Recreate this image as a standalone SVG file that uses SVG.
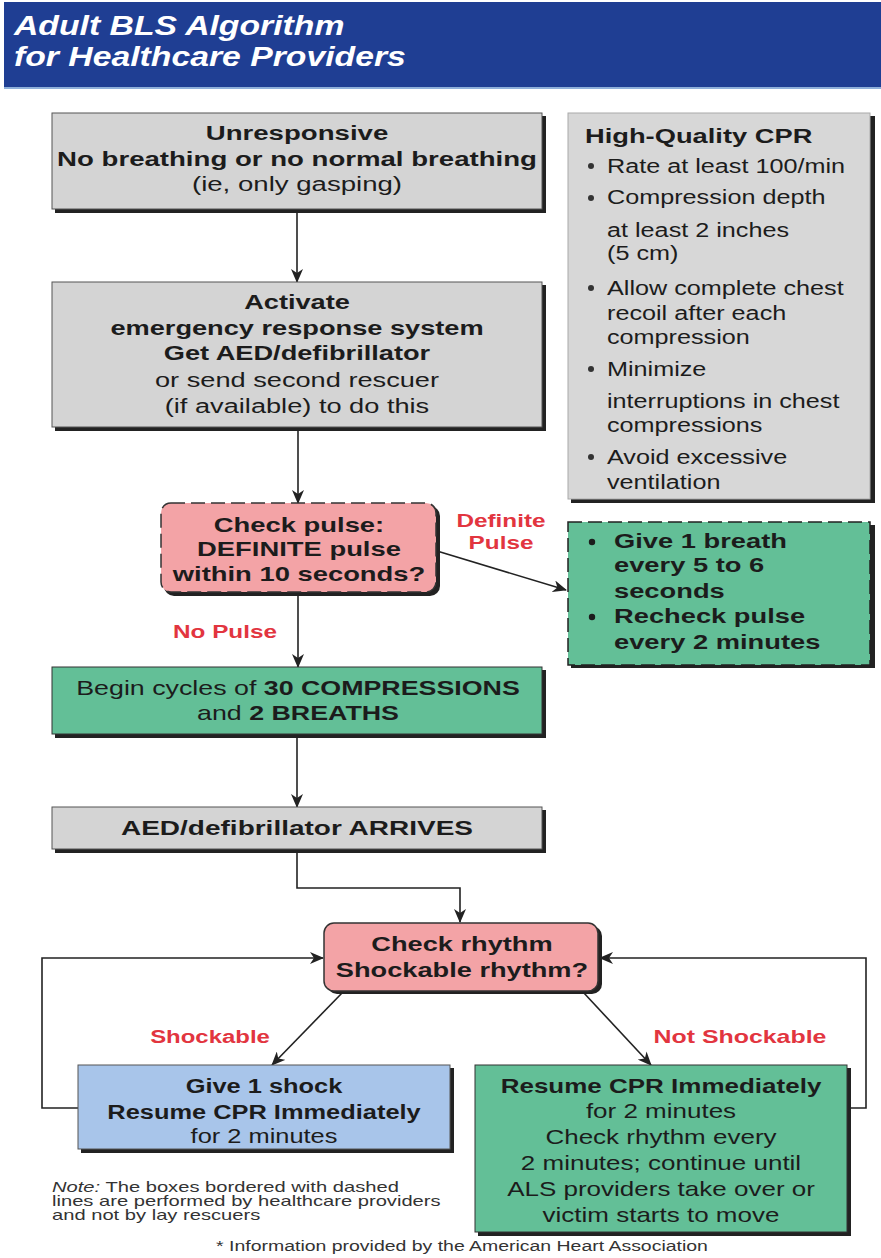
<svg xmlns="http://www.w3.org/2000/svg" width="881" height="1258" viewBox="0 0 881 1258">
<style>
text{font-family:"Liberation Sans",Arial,sans-serif;fill:#1c1c1c;font-size:20px}
.c{text-anchor:middle}
.b{font-weight:bold}
.red{fill:#e2353f;font-weight:bold}
.sh{fill:#222}
.gray{fill:#d4d4d4;stroke:#555;stroke-width:1}
.pink{fill:#f3a3a6;stroke:#333;stroke-width:1.5;stroke-dasharray:14 6}
.pinks{fill:#f3a3a6;stroke:#333;stroke-width:1.5}
.green{fill:#63bf97;stroke:#333;stroke-width:1}
.greend{fill:#63bf97;stroke:#222;stroke-width:1.5;stroke-dasharray:14 6}
.blue{fill:#a8c5ea;stroke:#555;stroke-width:1}
.ln{fill:none;stroke:#222;stroke-width:1.6}
</style>
<defs>
<marker id="ah" markerUnits="userSpaceOnUse" markerWidth="14" markerHeight="12" refX="13" refY="6" orient="auto">
<path d="M0,0 L14,6 L0,12 L4,6 Z" fill="#222"/>
</marker>
</defs>
<rect width="881" height="1258" fill="#ffffff"/>

<g id="title">
<rect x="4" y="2" width="877" height="85" fill="#1f3e93"/>
<rect x="4" y="87" width="877" height="2" fill="#8fb0da"/>
<g transform="translate(14 0) scale(1.25 1)">
<text x="0" y="35" style="fill:#fff;font-weight:bold;font-style:italic;font-size:27px">Adult BLS Algorithm</text>
<text x="0" y="66" style="fill:#fff;font-weight:bold;font-style:italic;font-size:27px">for Healthcare Providers</text>
</g>
</g>

<g id="connectors">
<line class="ln" x1="297" y1="210" x2="297" y2="282" marker-end="url(#ah)"/>
<line class="ln" x1="298" y1="428" x2="298" y2="503" marker-end="url(#ah)"/>
<line class="ln" x1="437" y1="551" x2="566" y2="590" marker-end="url(#ah)"/>
<line class="ln" x1="298" y1="594" x2="298" y2="667" marker-end="url(#ah)"/>
<line class="ln" x1="297" y1="737" x2="297" y2="807" marker-end="url(#ah)"/>
<polyline class="ln" points="297,850 297,888 460,888 460,922" marker-end="url(#ah)"/>
<line class="ln" x1="343" y1="992" x2="272" y2="1065" marker-end="url(#ah)"/>
<line class="ln" x1="583" y1="992" x2="651" y2="1065" marker-end="url(#ah)"/>
<polyline class="ln" points="78,1108 42,1108 42,958 323,958" marker-end="url(#ah)"/>
<polyline class="ln" points="848,1108 866,1108 866,958 600,958" marker-end="url(#ah)"/>
<g transform="translate(501 0) scale(1.35 1)">
<text class="c red" x="0" y="527" style="font-size:18px">Definite</text>
<text class="c red" x="0" y="549" style="font-size:18px">Pulse</text>
</g>
<g transform="translate(173 0) scale(1.35 1)">
<text class="red" x="0" y="638" style="font-size:18px">No Pulse</text>
</g>
<g transform="translate(210 0) scale(1.26 1)">
<text class="c red" x="0" y="1043" style="font-size:19px">Shockable</text>
</g>
<g transform="translate(740 0) scale(1.31 1)">
<text class="c red" x="0" y="1043" style="font-size:19px">Not Shockable</text>
</g>
</g>

<g id="unresponsive">
<rect class="sh" x="55" y="116" width="491" height="97"/>
<rect class="gray" x="52" y="113" width="490" height="96"/>
<g transform="translate(297 0) scale(1.38 1)">
<text class="c b" x="0" y="140">Unresponsive</text>
<text class="c b" x="0" y="166">No breathing or no normal breathing</text>
<text class="c" x="0" y="191">(ie, only gasping)</text>
</g>
</g>

<g id="activate">
<rect class="sh" x="55" y="285" width="491" height="146"/>
<rect class="gray" x="52" y="282" width="490" height="145"/>
<g transform="translate(297 0) scale(1.36 1)">
<text class="c b" x="0" y="309">Activate</text>
<text class="c b" x="0" y="335">emergency response system</text>
<text class="c b" x="0" y="360">Get AED/defibrillator</text>
<text class="c" x="0" y="387">or send second rescuer</text>
<text class="c" x="0" y="413">(if available) to do this</text>
</g>
</g>

<g id="hq-cpr">
<rect class="sh" x="571" y="116" width="304" height="387"/>
<rect x="568" y="113" width="302" height="386" fill="#d7d7d7" stroke="#aaa" stroke-width="1"/>
<g transform="translate(585 0) scale(1.3 1)">
<text class="b" x="0" y="143" style="font-size:21px">High-Quality CPR</text>
</g>
<g style="fill:#333">
<circle cx="591" cy="166" r="3"/>
<circle cx="591" cy="198" r="3"/>
<circle cx="591" cy="288" r="3"/>
<circle cx="591" cy="369" r="3"/>
<circle cx="591" cy="457" r="3"/>
</g>
<g transform="translate(607 0) scale(1.2 1)" style="font-size:21px">
<text x="0" y="173" style="font-size:21px">Rate at least 100/min</text>
<text x="0" y="204" style="font-size:21px">Compression depth</text>
<text x="0" y="237" style="font-size:21px">at least 2 inches</text>
<text x="0" y="260" style="font-size:21px">(5 cm)</text>
<text x="0" y="295" style="font-size:21px">Allow complete chest</text>
<text x="0" y="320" style="font-size:21px">recoil after each</text>
<text x="0" y="344" style="font-size:21px">compression</text>
<text x="0" y="376" style="font-size:21px">Minimize</text>
<text x="0" y="408" style="font-size:21px">interruptions in chest</text>
<text x="0" y="432" style="font-size:21px">compressions</text>
<text x="0" y="464" style="font-size:21px">Avoid excessive</text>
<text x="0" y="489" style="font-size:21px">ventilation</text>
</g>
</g>

<g id="check-pulse">
<rect class="sh" x="164" y="506" width="276" height="90" rx="10"/>
<rect class="pink" x="161" y="503" width="275" height="89" rx="10"/>
<g transform="translate(299 0) scale(1.37 1)">
<text class="c b" x="0" y="532">Check pulse:</text>
<text class="c b" x="0" y="556">DEFINITE pulse</text>
<text class="c b" x="0" y="581">within 10 seconds?</text>
</g>
</g>

<g id="rescue-breathing">
<rect class="sh" x="571" y="525" width="304" height="143"/>
<rect class="greend" x="568" y="522" width="302" height="143"/>
<g style="fill:#1c1c1c">
<circle cx="592" cy="542" r="3.2"/>
<circle cx="592" cy="617" r="3.2"/>
</g>
<g transform="translate(614 0) scale(1.4 1)">
<text class="b" x="0" y="548" style="font-size:19.5px">Give 1 breath</text>
<text class="b" x="0" y="572" style="font-size:19.5px">every 5 to 6</text>
<text class="b" x="0" y="598" style="font-size:19.5px">seconds</text>
<text class="b" x="0" y="623" style="font-size:19.5px">Recheck pulse</text>
<text class="b" x="0" y="649" style="font-size:19.5px">every 2 minutes</text>
</g>
</g>

<g id="begin-cycles">
<rect class="sh" x="55" y="670" width="491" height="68"/>
<rect class="green" x="52" y="667" width="490" height="67"/>
<g transform="translate(298 0) scale(1.34 1)">
<text class="c" x="0" y="695">Begin cycles of <tspan class="b">30 COMPRESSIONS</tspan></text>
<text class="c" x="0" y="720">and <tspan class="b">2 BREATHS</tspan></text>
</g>
</g>

<g id="aed-arrives">
<rect class="sh" x="55" y="810" width="491" height="43"/>
<rect class="gray" x="52" y="807" width="490" height="42"/>
<g transform="translate(297 0) scale(1.4 1)">
<text class="c b" x="0" y="835">AED/defibrillator ARRIVES</text>
</g>
</g>

<g id="check-rhythm">
<rect class="sh" x="327" y="926" width="275" height="68" rx="10"/>
<rect class="pinks" x="324" y="923" width="274" height="68" rx="10"/>
<g transform="translate(462 0) scale(1.36 1)">
<text class="c b" x="0" y="951">Check rhythm</text>
<text class="c b" x="0" y="977">Shockable rhythm?</text>
</g>
</g>

<g id="shock">
<rect class="sh" x="81" y="1068" width="373" height="85"/>
<rect class="blue" x="78" y="1065" width="372" height="84"/>
<g transform="translate(264 0) scale(1.27 1)">
<text class="c b" x="0" y="1093">Give 1 shock</text>
<text class="c b" x="0" y="1119">Resume CPR Immediately</text>
<text class="c" x="0" y="1143">for 2 minutes</text>
</g>
</g>

<g id="resume-cpr">
<rect class="sh" x="478" y="1068" width="373" height="168"/>
<rect class="green" x="475" y="1065" width="372" height="167"/>
<g transform="translate(661 0) scale(1.3 1)">
<text class="c b" x="0" y="1093">Resume CPR Immediately</text>
<text class="c" x="0" y="1118">for 2 minutes</text>
<text class="c" x="0" y="1144">Check rhythm every</text>
<text class="c" x="0" y="1170">2 minutes; continue until</text>
<text class="c" x="0" y="1196">ALS providers take over or</text>
<text class="c" x="0" y="1222">victim starts to move</text>
</g>
</g>

<g id="note">
<g transform="translate(52 0) scale(1.44 1)">
<text x="0" y="1192" style="font-size:14px;fill:#333"><tspan font-style="italic">Note:</tspan>  The boxes bordered with dashed</text>
<text x="0" y="1206" style="font-size:14px;fill:#333">lines are performed by healthcare providers</text>
<text x="0" y="1220" style="font-size:14px;fill:#333">and not by lay rescuers</text>
</g>
<g transform="translate(462 0) scale(1.39 1)">
<text class="c" x="0" y="1251" style="font-size:14px;fill:#333">* Information provided by the American Heart Association</text>
</g>
</g>
</svg>
